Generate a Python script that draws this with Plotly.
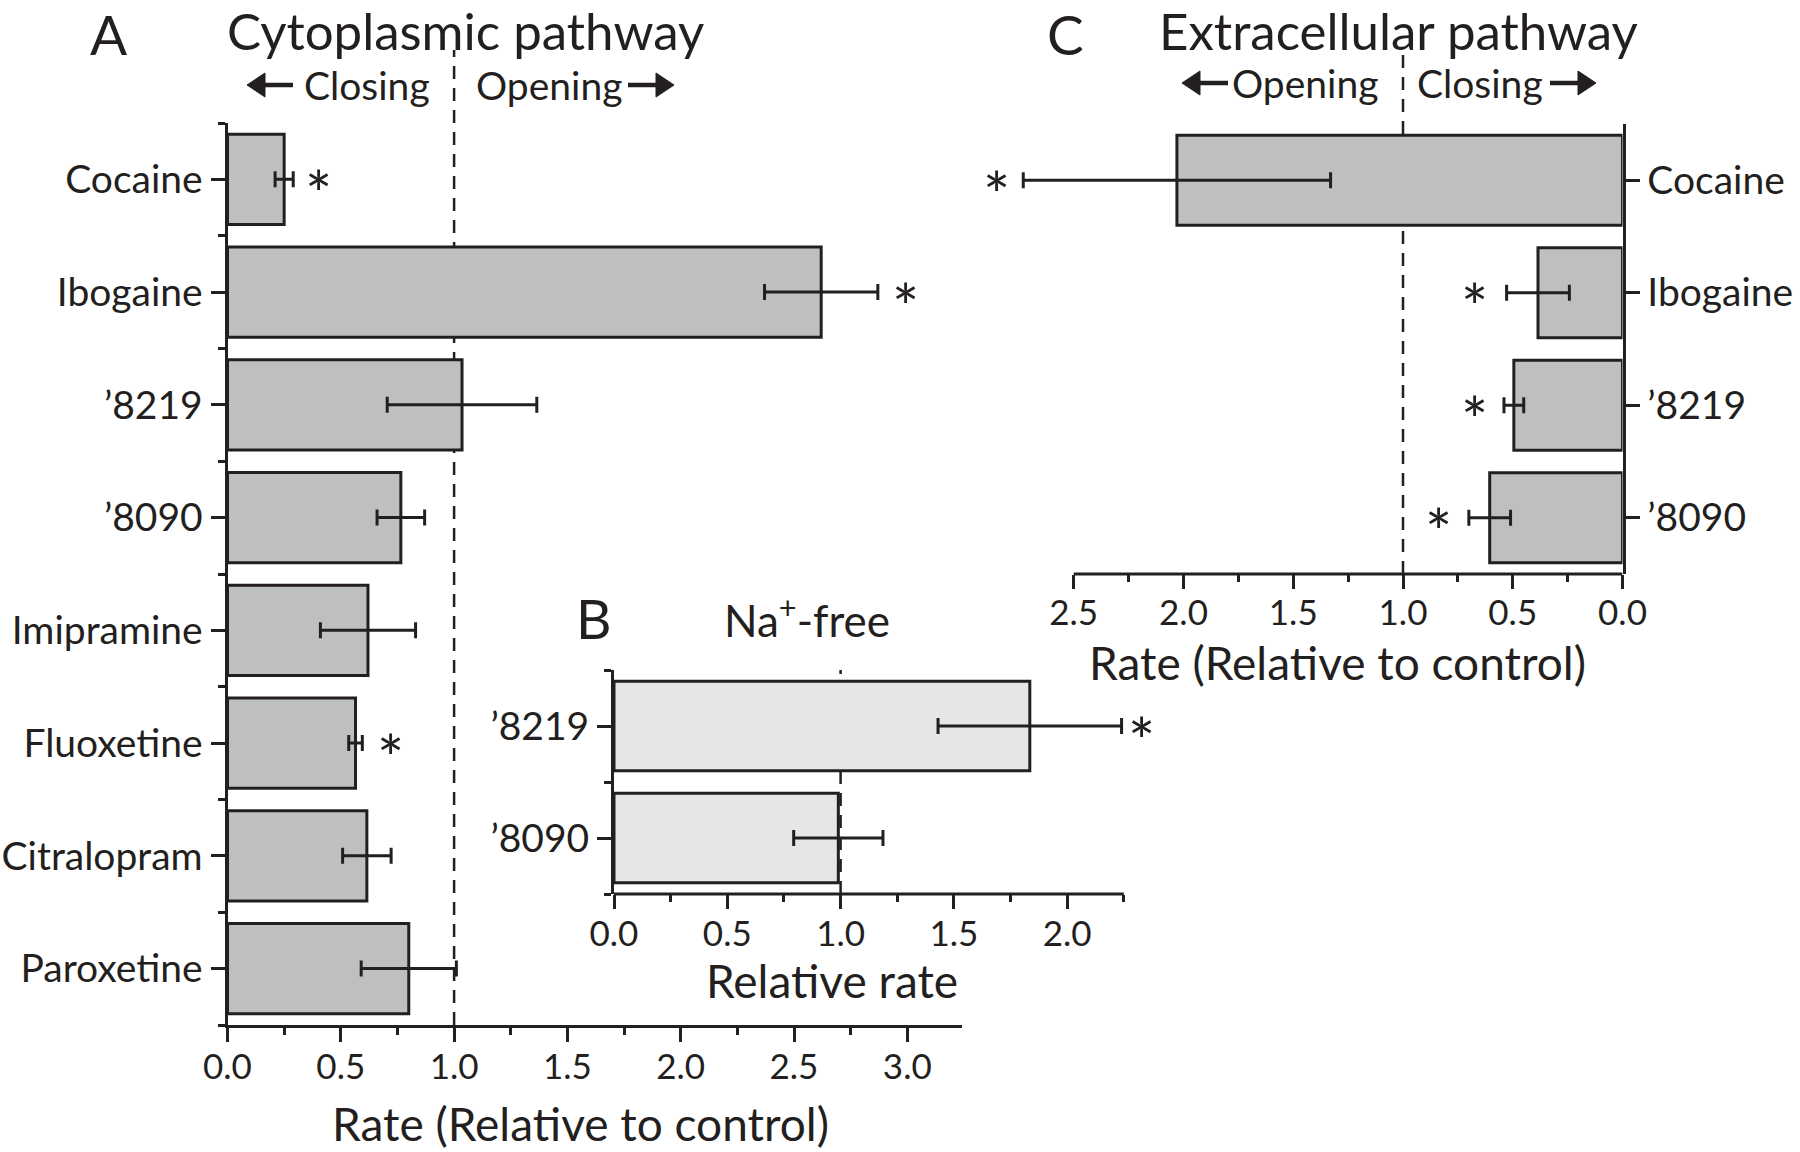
import plotly.graph_objects as go

W, H = 1800, 1152

# ---------------- data ----------------
cyto_drugs = ["Cocaine", "Ibogaine", "\u20198219", "\u20198090", "Imipramine",
              "Fluoxetine", "Citralopram", "Paroxetine"]
cyto_rate = [0.25, 2.62, 1.035, 0.765, 0.62, 0.565, 0.615, 0.80]
cyto_err = [0.04, 0.25, 0.33, 0.105, 0.21, 0.03, 0.107, 0.21]
cyto_star = [0.40, 2.99, None, None, None, 0.72, None, None]

na_drugs = ["\u20198219", "\u20198090"]
na_rate = [1.835, 0.99]
na_err = [0.405, 0.197]
na_star = [2.33, None]

extra_drugs = ["Cocaine", "Ibogaine", "\u20198219", "\u20198090"]
extra_rate = [2.03, 0.385, 0.495, 0.605]
extra_err = [0.70, 0.143, 0.045, 0.095]
extra_star = [2.85, 0.675, 0.675, 0.84]

x_ticks_A = [0.0, 0.5, 1.0, 1.5, 2.0, 2.5, 3.0]
x_ticks_B = [0.0, 0.5, 1.0, 1.5, 2.0]
x_ticks_C = [0.0, 0.5, 1.0, 1.5, 2.0, 2.5]

FONT = "Lato"
INK = "#231f20"
DARK_BAR = "#bebfc1"
LIGHT_BAR = "#e6e6e6"


def px_x(p):
    return p / W


def px_y(p):
    return 1 - p / H


fig = go.Figure()


def add_bars(vals, errs, color, xa, ya):
    fig.add_trace(go.Bar(
        x=vals, y=list(range(len(vals))), orientation="h", width=0.8,
        marker=dict(color=color, line=dict(color=INK, width=3)),
        error_x=dict(type="data", array=errs, visible=True, color=INK,
                     thickness=3, width=8),
        xaxis=xa, yaxis=ya, showlegend=False, hoverinfo="skip",
    ))


add_bars(cyto_rate, cyto_err, DARK_BAR, "x", "y")
add_bars(na_rate, na_err, LIGHT_BAR, "x2", "y2")
add_bars(extra_rate, extra_err, DARK_BAR, "x3", "y3")

annotations = []


def stars(star_list, xref, yref):
    for i, s in enumerate(star_list):
        if s is None:
            continue
        annotations.append(dict(x=s, y=i, xref=xref, yref=yref, text="*",
                                showarrow=False, yshift=-14,
                                font=dict(family=FONT, size=64, color=INK)))


stars(cyto_star, "x", "y")
stars(na_star, "x2", "y2")
stars(extra_star, "x3", "y3")

tick_common = dict(ticks="outside", ticklen=14, tickwidth=3, tickcolor=INK,
                   showgrid=False, zeroline=False, fixedrange=True, linecolor=INK,
                   linewidth=3, automargin=False)
minor_common = dict(ticks="outside", ticklen=7, tickwidth=3, tickcolor=INK)

NUMFONT = dict(family=FONT, size=35, color=INK)
CATFONT = dict(family=FONT, size=39, color=INK)

# pixel geometry of the panels (full-size)
UNIT_AB = 226.6      # px per rate unit in panels A and B
UNIT_C = 219.5       # px per rate unit in panel C
A_left, A_top, A_bot = 227.5, 123, 1025
A_max = 3.24
B_left, B_top, B_bot = 614, 670, 894
B_axis_max, B_range_max = 2.25, 2.45
C_right, C_top, C_bot = 1622.5, 124, 574
C_axis_max, C_range_max = 2.5, 2.95

fig.update_layout(
    xaxis=dict(domain=[px_x(A_left), px_x(A_left + A_max * UNIT_AB)], anchor="y",
               range=[0, A_max], showline=True, ticklabelstandoff=-5,
               tickvals=x_ticks_A, ticktext=[f"{v:.1f}" for v in x_ticks_A],
               tickfont=NUMFONT,
               minor=dict(dtick=0.25, tick0=0, **minor_common),
               **tick_common),
    yaxis=dict(domain=[px_y(A_bot), px_y(A_top)], anchor="x", range=[7.5, -0.5],
               showline=True,
               tickvals=list(range(len(cyto_drugs))), ticktext=cyto_drugs,
               tickfont=CATFONT,
               minor=dict(tickmode="array",
                          tickvals=[i - 0.5 for i in range(len(cyto_drugs) + 1)],
                          **minor_common),
               **tick_common),
    xaxis2=dict(domain=[px_x(B_left), px_x(B_left + B_range_max * UNIT_AB)], anchor="y2",
                range=[0, B_range_max], showline=False, ticklabelstandoff=-5,
                tickvals=x_ticks_B, ticktext=[f"{v:.1f}" for v in x_ticks_B],
                tickfont=NUMFONT,
                minor=dict(tickmode="array", tickvals=[0.25, 0.75, 1.25, 1.75, 2.25],
                           **minor_common),
                **tick_common),
    yaxis2=dict(domain=[px_y(B_bot), px_y(B_top)], anchor="x2", range=[1.5, -0.5],
                showline=True,
                tickvals=[0, 1], ticktext=na_drugs,
                tickfont=CATFONT,
                minor=dict(tickmode="array", tickvals=[-0.5, 0.5, 1.5], **minor_common),
                **tick_common),
    xaxis3=dict(domain=[px_x(C_right - C_range_max * UNIT_C), px_x(C_right)], anchor="y3",
                range=[C_range_max, 0], showline=False, ticklabelstandoff=-6,
                tickvals=x_ticks_C, ticktext=[f"{v:.1f}" for v in x_ticks_C],
                tickfont=NUMFONT,
                minor=dict(tickmode="array", tickvals=[0.25, 0.75, 1.25, 1.75, 2.25],
                           **minor_common),
                **tick_common),
    yaxis3=dict(domain=[px_y(C_bot), px_y(C_top)], anchor="x3", range=[3.5, -0.5],
                side="right", showline=True,
                tickvals=list(range(len(extra_drugs))), ticktext=extra_drugs,
                tickfont=CATFONT,
                **tick_common),
)

DASH = dict(color=INK, width=2.5, dash="13px,9px")
shapes = [
    # dashed reference lines at rate 1.0 (drawn beneath the bars)
    dict(type="line", xref="x", yref="paper", x0=1.0, x1=1.0, y0=px_y(A_bot), y1=px_y(50),
         line=DASH, layer="below"),
    dict(type="line", xref="x2", yref="paper", x0=1.0, x1=1.0, y0=px_y(B_bot), y1=px_y(B_top),
         line=DASH, layer="below"),
    dict(type="line", xref="x3", yref="paper", x0=1.0, x1=1.0, y0=px_y(C_bot), y1=px_y(46),
         line=DASH, layer="below"),
    # x axis lines for B and C ending at the last tick
    dict(type="line", xref="x2", yref="y2 domain", x0=0, x1=B_axis_max, y0=0, y1=0,
         line=dict(color=INK, width=3)),
    dict(type="line", xref="x3", yref="y3 domain", x0=0, x1=C_axis_max, y0=0, y1=0,
         line=dict(color=INK, width=3)),
]


def arrow(tip, tail, y, head_len=18, head_half=12):
    """Decorative direction arrow: a short shaft plus a filled triangular head."""
    d = 1 if tail > tip else -1
    base = tip + d * head_len
    shapes.append(dict(type="line", xref="paper", yref="paper",
                       x0=px_x(base), x1=px_x(tail), y0=px_y(y), y1=px_y(y),
                       line=dict(color=INK, width=4.5)))
    path = (f"M {px_x(tip)},{px_y(y)} L {px_x(base)},{px_y(y - head_half)} "
            f"L {px_x(base)},{px_y(y + head_half)} Z")
    shapes.append(dict(type="path", xref="paper", yref="paper", path=path,
                       fillcolor=INK, line=dict(color=INK, width=1)))


def text(x, y, s, size, **kw):
    d = dict(x=px_x(x), y=px_y(y), xref="paper", yref="paper", text=s, showarrow=False,
             xanchor="center", yanchor="middle", font=dict(family=FONT, size=size, color=INK))
    d.update(kw)
    annotations.append(d)


# Panel A texts
text(109, 34, "A", 55)
text(465, 31, "Cytoplasmic pathway", 51)
text(367, 85, "Closing", 39)
text(549, 85, "Opening", 39)
arrow(247, 293, 85)
arrow(674, 628, 85)
text(580, 1123, "Rate (Relative to control)", 46)

# Panel B texts
text(594, 618, "B", 55)
text(807, 617, "Na<sup>+</sup>-free", 44)
text(832, 980, "Relative rate", 46)

# Panel C texts
text(1065, 34, "C", 55)
text(1398, 31, "Extracellular pathway", 51)
text(1305, 83, "Opening", 39)
text(1480, 83, "Closing", 39)
arrow(1182, 1228, 83)
arrow(1596, 1550, 83)
text(1337, 662, "Rate (Relative to control)", 46)

fig.update_layout(
    width=W, height=H, autosize=False,
    margin=dict(l=0, r=0, t=0, b=0, autoexpand=False),
    paper_bgcolor="white", plot_bgcolor="rgba(0,0,0,0)",
    shapes=shapes, annotations=annotations,
    font=dict(family=FONT, color=INK),
    bargap=0.2,
)

fig.write_html("out.html", config={"displayModeBar": False},
               post_script="document.body.style.margin='0px';")
